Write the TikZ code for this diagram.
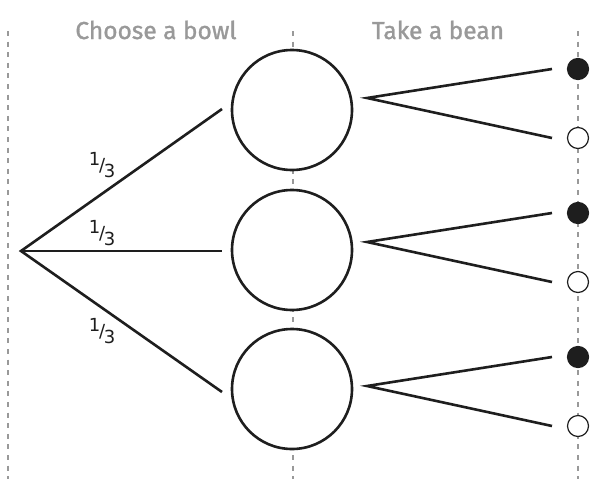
\documentclass[tikz,border=0pt]{standalone}
\usepackage{fontspec}
\setmainfont{Fira Sans}
\newfontfamily\headfont[FakeBold=1.2]{Fira Sans}
\newfontfamily\fracfont{DejaVu Sans}
\definecolor{guide}{HTML}{999999}
\definecolor{ink}{HTML}{1E1E1E}
\begin{document}
\begin{tikzpicture}[x=1pt,y=-1pt,
  guideline/.style={draw=guide,line width=2.4pt,dash pattern=on 5pt off 5.6pt},
  bowl/.style={circle,draw=ink,line width=2.6pt,fill=white,minimum size=120pt,inner sep=0pt},
  branch/.style={draw=ink,line width=2.6pt},
  bean/.style={circle,draw=ink,line width=1.2pt,minimum size=21pt,inner sep=0pt},
  fullbean/.style={bean,fill=ink},
  emptybean/.style={bean,fill=white},
  heading/.style={text=guide,font=\headfont\fontsize{24.5}{26}\selectfont,inner sep=0pt,anchor=base},
  prob/.style={font=\fracfont\fontsize{18}{19}\selectfont,inner sep=0pt,text=ink}]
\useasboundingbox (0,0) rectangle (596,479);
\fill[white] (0,0) rectangle (596,479);
% guides
\coordinate (gl1) at (8,31); \coordinate (gl2) at (8,479);
\coordinate (gm1) at (293,31); \coordinate (gm2) at (293,479);
\coordinate (gr1) at (578,31); \coordinate (gr2) at (578,479);
\draw[guideline] (gl1) -- (gl2);
\draw[guideline] (gm1) -- (gm2);
\draw[guideline] (gr1) -- (gr2);
% headings
\node[heading] (h1) at (156,39) {Choose a bowl};
\node[heading] (h2) at (438,39) {Take a bean};
% bowls
\node[bowl] (b1) at (292,110) {};
\node[bowl] (b2) at (292,250) {};
\node[bowl] (b3) at (292,389) {};
% root branches
\coordinate (root) at (21,251);
\coordinate (e1) at (222,109);
\coordinate (e2) at (222,251);
\coordinate (e3) at (222,392);
\draw[branch,line join=miter] (e1) -- (root) -- (e3);
\draw[branch] (root) -- (e2);
\node[prob] (p1) at (102,165) {\raisebox{6pt}{1}\kern-1pt/\kern-1.5pt\raisebox{-6pt}{3}};
\node[prob] (p2) at (102,233) {\raisebox{6pt}{1}\kern-1pt/\kern-1.5pt\raisebox{-6pt}{3}};
\node[prob] (p3) at (102,331) {\raisebox{6pt}{1}\kern-1pt/\kern-1.5pt\raisebox{-6pt}{3}};
% bean branches
\foreach \i/\v/\a/\b in {1/98/69/138, 2/242/213/282, 3/386/357/426}{
  \coordinate (v\i) at (367,\v);
  \coordinate (ta\i) at (552,\a);
  \coordinate (tb\i) at (552,\b);
  \draw[branch,line join=miter] (ta\i) -- (v\i) -- (tb\i);
  \node[fullbean] (fb\i) at (578,\a) {};
  \node[emptybean] (eb\i) at (578,\b) {};
}
\end{tikzpicture}
\end{document}
